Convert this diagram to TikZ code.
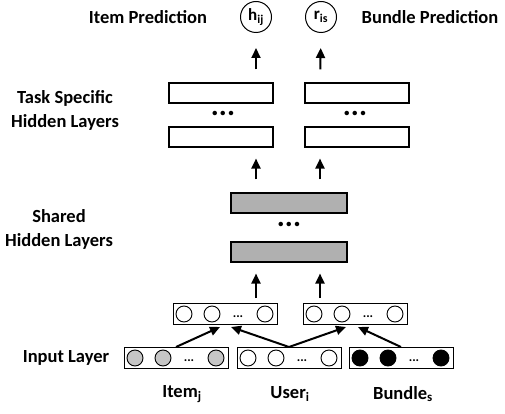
\documentclass[tikz,border=0pt]{standalone}
\usepackage{fontspec}
\setmainfont{Carlito}
\usepackage{tikz}
\usetikzlibrary{arrows.meta, positioning, calc}

\tikzset{
  lbl/.style={font=\bfseries\fontsize{18.5}{24}\selectfont, align=center, inner sep=0pt},
  layerbox/.style={draw, line width=1.1pt, minimum width=104pt, minimum height=20pt, inner sep=0pt},
  sharedbox/.style={layerbox, fill=gray!62, minimum width=116pt},
  unitbox/.style={draw, line width=1pt, minimum width=104pt, minimum height=21pt, inner sep=0pt},
  unit/.style={circle, draw, line width=0.9pt, minimum size=16pt, inner sep=0pt},
  outcirc/.style={circle, draw, line width=1pt, minimum size=31pt, inner sep=0pt,
                  font=\bfseries\fontsize{17}{19}\selectfont},
  updots/.style={font=\bfseries\fontsize{30}{30}\selectfont, inner sep=0pt, anchor=base},
  smdots/.style={font=\bfseries\fontsize{13}{13}\selectfont, inner sep=0pt, anchor=base},
  flow/.style={-{Triangle[length=10pt,width=9pt]}, line width=2pt},
}

% one layer of units: name, centre x, centre y, fill colour
\newcommand{\unitlayer}[4]{%
  \node[unitbox] (#1) at (#2,#3) {};
  \foreach \dx/\k in {-41/a, -13/b, 40/c} {
    \node[unit, fill=#4] (#1-\k) at ($(#1.center)+(\dx,0)$) {};
  }
  \node[smdots] at ($(#1.center)+(13,3)$) {...};
}

\begin{document}
\begin{tikzpicture}[x=1pt, y=-1pt]
    \useasboundingbox (0,0) rectangle (505,414);

    % -------------------------------------------------------
    % 1. Output layer
    % -------------------------------------------------------
    \node[outcirc] (hij) at (256,17) {h\textsubscript{ij}};
    \node[outcirc] (ris) at (321,17) {r\textsubscript{is}};
    \node[lbl] (itempred) at (148,17) {Item Prediction};
    \node[lbl] (bundlepred) at (430,17) {Bundle Prediction};

    % -------------------------------------------------------
    % 2. Task specific hidden layers
    % -------------------------------------------------------
    \node[layerbox] (ti1) at (221,93) {};
    \node[layerbox] (ti2) at (221,137) {};
    \node[layerbox] (tb1) at (357,93) {};
    \node[layerbox] (tb2) at (357,137) {};
    \node[updots] at (223,116) {...};
    \node[updots] at (355,116) {...};
    \node[lbl] (tasklbl) at (65,110) {Task Specific\\Hidden Layers};

    % -------------------------------------------------------
    % 3. Shared hidden layers
    % -------------------------------------------------------
    \node[sharedbox] (sh1) at (289,203) {};
    \node[sharedbox] (sh2) at (289,252) {};
    \node[updots] at (289,226) {...};
    \node[lbl] (sharedlbl) at (59,229) {Shared\\Hidden Layers};

    % -------------------------------------------------------
    % 4. Embedding and input layers
    % -------------------------------------------------------
    \unitlayer{embI}{225}{314}{white}
    \unitlayer{embB}{355}{314}{white}
    \unitlayer{inI}{176}{358}{gray!45}
    \unitlayer{inU}{289}{358}{white}
    \unitlayer{inB}{401}{358}{black}
    \node[lbl] (inputlbl) at (66,358) {Input Layer};

    \node[lbl] (itemlbl) at (182,394) {Item\textsubscript{j}};
    \node[lbl] (userlbl) at (290,394) {User\textsubscript{i}};
    \node[lbl] (bundlelbl) at (403,394) {Bundle\textsubscript{s}};

    % -------------------------------------------------------
    % 5. Connections
    % -------------------------------------------------------
    \coordinate (colL) at (256,0);
    \coordinate (colR) at (320,0);
    \draw[flow, shorten <=5pt, shorten >=11pt] (colL |- embI.north) -- (colL |- sh2.south);
    \draw[flow, shorten <=5pt, shorten >=11pt] (colR |- embI.north) -- (colR |- sh2.south);
    \draw[flow, shorten <=13pt, shorten >=11pt] (colL |- sh1.north) -- (colL |- ti2.south);
    \draw[flow, shorten <=13pt, shorten >=11pt] (colR |- sh1.north) -- (colR |- ti2.south);
    \draw[flow, shorten <=13pt, shorten >=15pt] (colL |- ti1.north) -- (hij.south);
    \draw[flow, shorten <=13pt, shorten >=15pt] (colR |- ti1.north) -- (ris.south);

    \draw[flow] (inI.north) -- ($(embI.south)+(-5,2)$);
    \draw[flow] (inU.north) -- ($(embI.south)+(6,2)$);
    \draw[flow] (inU.north) -- ($(embB.south)+(-9,2)$);
    \draw[flow] (inB.north) -- ($(embB.south)+(3,2)$);
\end{tikzpicture}
\end{document}
